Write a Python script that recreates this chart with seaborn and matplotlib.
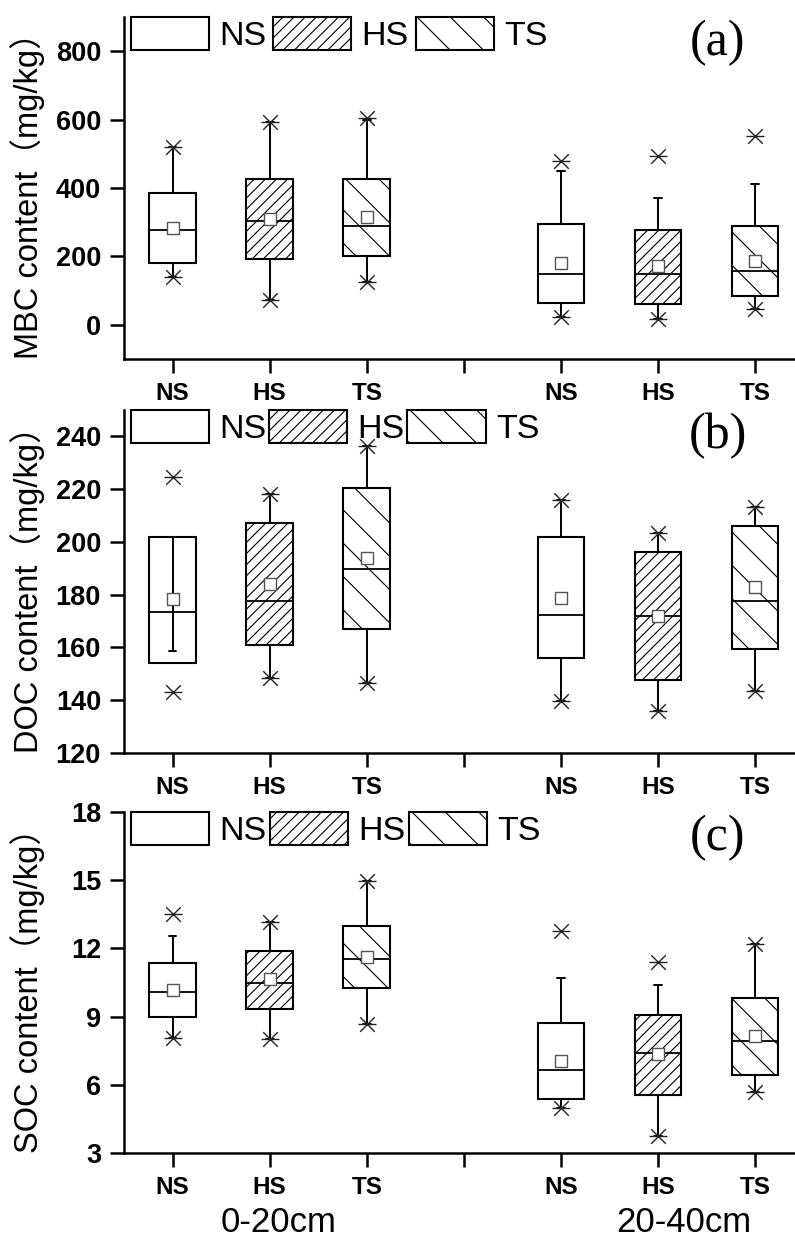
import numpy as np
import matplotlib
matplotlib.use("Agg")
import matplotlib.pyplot as plt
from matplotlib.patches import Patch
import seaborn as sns

sns.set_style("ticks")
plt.rcParams['font.family'] = ['Liberation Sans', 'Noto Sans CJK SC', 'DejaVu Sans']
plt.rcParams['hatch.linewidth'] = 0.8
for key in ["text.color", "axes.labelcolor", "xtick.color", "ytick.color", "axes.edgecolor"]:
    plt.rcParams[key] = "black"

# ---------------- data ----------------
treatments = ["NS", "HS", "TS"]
depths = ["0-20cm", "20-40cm"]
tick_labels = ["NS", "HS", "TS", "", "NS", "HS", "TS"]
positions = [1, 2, 3, 5, 6, 7]

# Panel (a) MBC
mbc_q1 = [180, 191, 200, 63, 60, 85]
mbc_med = [277, 304, 288, 148, 148, 157]
mbc_q3 = [385, 425, 425, 295, 277, 288]
mbc_mean = [284, 309, 316, 180, 171, 188]
mbc_wlo = [140, 74, 126, 24, 16, 45]
mbc_whi = [519, 594, 598, 451, 372, 413]
mbc_min = [140, 74, 126, 24, 16, 45]
mbc_max = [520, 594, 606, 480, 493, 551]

# Panel (b) DOC
doc_q1 = [154.3, 160.8, 167.1, 156.0, 147.8, 159.6]
doc_med = [173.3, 177.8, 189.7, 172.4, 172.1, 177.6]
doc_q3 = [201.8, 207.1, 220.6, 201.7, 196.2, 205.9]
doc_mean = [178.3, 184.0, 193.9, 178.7, 172.1, 182.9]
doc_wlo = [154.3, 148.4, 146.5, 139.6, 135.8, 143.7]
doc_whi = [158.5, 218.2, 236.2, 216.0, 203.4, 213.2]
doc_min = [143.3, 148.4, 146.5, 139.6, 135.8, 143.7]
doc_max = [224.8, 218.2, 236.2, 216.0, 203.4, 213.2]

# Panel (c) SOC
soc_q1 = [8.98, 9.33, 10.26, 5.39, 5.56, 6.41]
soc_med = [10.08, 10.48, 11.53, 6.63, 7.40, 7.91]
soc_q3 = [11.36, 11.90, 12.97, 8.72, 9.08, 9.82]
soc_mean = [10.15, 10.65, 11.60, 7.06, 7.35, 8.13]
soc_wlo = [8.06, 8.01, 8.67, 4.98, 3.76, 5.68]
soc_whi = [12.53, 13.14, 14.95, 10.68, 10.37, 12.19]
soc_min = [8.06, 8.01, 8.67, 4.98, 3.76, 5.68]
soc_max = [13.51, 13.14, 14.95, 12.75, 11.38, 12.19]

panels = [
    dict(q1=mbc_q1, med=mbc_med, q3=mbc_q3, mean=mbc_mean, wlo=mbc_wlo, whi=mbc_whi,
         mn=mbc_min, mx=mbc_max, ylim=(-100, 900), yticks=[0, 200, 400, 600, 800],
         ylabel="MBC content\uff08mg/kg\uff09", tag="(a)", colsp=0.2),
    dict(q1=doc_q1, med=doc_med, q3=doc_q3, mean=doc_mean, wlo=doc_wlo, whi=doc_whi,
         mn=doc_min, mx=doc_max, ylim=(120, 250), yticks=[120, 140, 160, 180, 200, 220, 240],
         ylabel="DOC content\uff08mg/kg\uff09", tag="(b)", colsp=0.08),
    dict(q1=soc_q1, med=soc_med, q3=soc_q3, mean=soc_mean, wlo=soc_wlo, whi=soc_whi,
         mn=soc_min, mx=soc_max, ylim=(3, 18), yticks=[3, 6, 9, 12, 15, 18],
         ylabel="SOC content\uff08mg/kg\uff09", tag="(c)", colsp=0.1),
]

hatches = ["", "///", "\\"]

fig = plt.figure(figsize=(7.95, 12.41), dpi=100)
axes_rects = [
    [0.156, 0.7107, 0.844, 0.2756],
    [0.156, 0.3932, 0.844, 0.2764],
    [0.156, 0.0709, 0.844, 0.2748],
]

for rect, p in zip(axes_rects, panels):
    ax = fig.add_axes(rect)
    stats = []
    for i in range(6):
        stats.append(dict(q1=p["q1"][i], med=p["med"][i], q3=p["q3"][i],
                          whislo=p["wlo"][i], whishi=p["whi"][i], fliers=[]))
    bp = ax.bxp(stats, positions=positions, widths=0.48, patch_artist=True,
                showfliers=False, capwidths=0.08,
                boxprops=dict(edgecolor="black", linewidth=1.5, facecolor="white"),
                medianprops=dict(color="black", linewidth=1.3),
                whiskerprops=dict(color="black", linewidth=1.4),
                capprops=dict(color="black", linewidth=1.4))
    for i, box in enumerate(bp["boxes"]):
        box.set_hatch(hatches[i % 3])
    # min / max stars (x with horizontal bar)
    star_x = positions + positions
    star_y = list(p["mn"]) + list(p["mx"])
    sns.scatterplot(x=star_x, y=star_y, marker="x", s=110, color="#222222",
                    edgecolor="#222222", linewidth=1.0, ax=ax, zorder=6, legend=False)
    sns.scatterplot(x=star_x, y=star_y, marker="_", s=150, color="#222222",
                    edgecolor="#222222", linewidth=1.0, ax=ax, zorder=6, legend=False)
    # mean squares
    sns.scatterplot(x=positions, y=p["mean"], marker="s", s=75, color="white",
                    edgecolor="#555555", linewidth=1.0, ax=ax, zorder=7, legend=False)

    ax.set_xlim(0.5, 7.41)
    ax.set_ylim(*p["ylim"])
    ax.set_yticks(p["yticks"])
    ax.set_yticklabels([str(t) for t in p["yticks"]], fontsize=19.5, fontweight="bold")
    ax.set_xticks(range(1, 8))
    ax.set_xticklabels(tick_labels, fontsize=17.5, fontweight="bold")
    ax.tick_params(axis="both", direction="out", length=10, width=1.8, pad=6.5,
                   color="black", labelcolor="black")
    for s in ["top", "right"]:
        ax.spines[s].set_visible(False)
    for s in ["left", "bottom"]:
        ax.spines[s].set_linewidth(1.8)
        ax.spines[s].set_color("black")
    ax.set_ylabel(p["ylabel"], fontsize=23.5, color="black")
    ax.yaxis.set_label_coords(-0.118, 0.5)

    handles = [Patch(facecolor="white", edgecolor="black", hatch=h, linewidth=1.5) for h in hatches]
    ax.legend(handles, treatments, loc="upper left", bbox_to_anchor=(0.0, 1.02), ncol=3,
              frameon=False, fontsize=24.5, handlelength=2.3, handleheight=1.12,
              handletextpad=0.3, columnspacing=p["colsp"], borderaxespad=0.2, borderpad=0.0,
              labelcolor="black")
    ax.text(0.885, 0.925, p["tag"], transform=ax.transAxes, fontsize=36,
            family="Liberation Serif", ha="center", va="center", color="black")

ax = fig.axes[-1]
ax.text(2.09, -0.205, depths[0], transform=ax.get_xaxis_transform(), fontsize=25,
        ha="center", va="center", color="black")
ax.text(6.26, -0.205, depths[1], transform=ax.get_xaxis_transform(), fontsize=25,
        ha="center", va="center", color="black")

fig.savefig("out.png", dpi=100)
